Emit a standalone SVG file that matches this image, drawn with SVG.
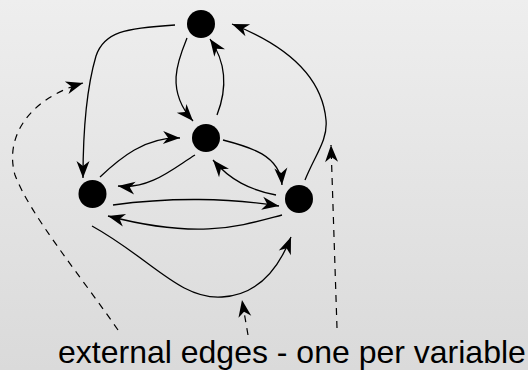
<svg xmlns="http://www.w3.org/2000/svg" width="528" height="370" viewBox="0 0 528 370">
  <defs>
    <linearGradient id="bg" x1="0" y1="0" x2="0" y2="1">
      <stop offset="0" stop-color="#eeeeee"/>
      <stop offset="1" stop-color="#dadada"/>
    </linearGradient>
    <marker id="arrow" markerUnits="userSpaceOnUse" viewBox="-18 -7 19 14" refX="0" refY="0" markerWidth="19" markerHeight="14" orient="auto" overflow="visible">
      <path d="M0,0 L-17,-6.5 L-12,0 L-17,6.5 Z" fill="#000"/>
    </marker>
    <style>
      .edge { fill: none; stroke: #000; stroke-width: 1.3; marker-end: url(#arrow); }
      .ext { fill: none; stroke: #000; stroke-width: 1.2; stroke-dasharray: 7 6; marker-end: url(#arrow); }
      .node { fill: #000; }
      .label { font-family: "Liberation Sans", Arial, sans-serif; font-size: 32px; fill: #000; }
    </style>
  </defs>

  <rect x="0" y="0" width="528" height="370" fill="url(#bg)"/>

  <g id="connectors">
    <!-- top -> left -->
    <path class="edge" d="M175,25 C125,28 104,32 96,56 C86,90 83,140 83,178"/>
    <!-- top -> middle -->
    <path class="edge" d="M187,38 C178,60 165,90 193,121"/>
    <!-- middle -> top -->
    <path class="edge" d="M217,115 C226,92 228,65 210,39"/>
    <!-- right -> top -->
    <path class="edge" d="M305,180 C315,155 328,140 326,120 C322,75 285,45 232,24"/>
    <!-- left -> middle -->
    <path class="edge" d="M100,177 C120,158 145,137 180,138"/>
    <!-- middle -> left -->
    <path class="edge" d="M195,155 C175,167 150,190 118,186"/>
    <!-- middle -> right -->
    <path class="edge" d="M223,140 C250,147 280,155 282,185"/>
    <!-- right -> middle -->
    <path class="edge" d="M276,195 C250,190 230,180 213,160"/>
    <!-- left -> right (upper) -->
    <path class="edge" d="M113,205 C170,197 230,198 279,206"/>
    <!-- right -> left (lower) -->
    <path class="edge" d="M282,215 C240,226 200,240 108,216"/>
    <!-- left -> right (wide bottom arc) -->
    <path class="edge" d="M92,226 C150,258 180,300 222,297 C260,295 280,265 291,237"/>

    <!-- external inputs -->
    <path class="ext" d="M118,330 C80,275 30,215 15,175 C5,140 25,100 83,83"/>
    <path class="ext" d="M248,335 L242,300"/>
    <path class="ext" d="M337,328 L331,145"/>
  </g>

  <g id="node-top"><circle class="node" cx="201" cy="24" r="14"/></g>
  <g id="node-middle"><circle class="node" cx="206" cy="138" r="14"/></g>
  <g id="node-left"><circle class="node" cx="92.5" cy="194" r="14"/></g>
  <g id="node-right"><circle class="node" cx="299" cy="199" r="14"/></g>

  <g id="caption">
    <text class="label" x="58" y="363">external edges - one per variable</text>
  </g>
</svg>
